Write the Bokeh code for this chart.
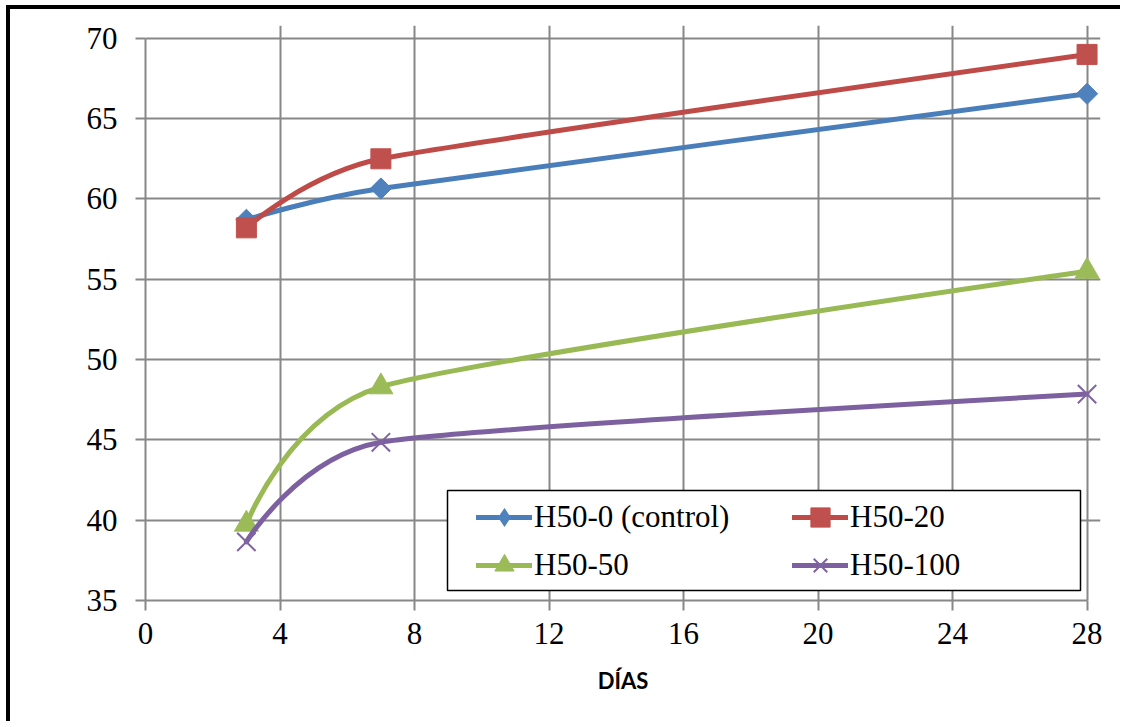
from bokeh.plotting import figure
from bokeh.models import (Legend, LegendItem, BoxAnnotation, FixedTicker,
                          ColumnDataSource)
from bokeh.embed import file_html
from bokeh.resources import INLINE
import math

# ---- data ----
dias = [3, 7, 28]
names = ["H50-0 (control)", "H50-20", "H50-50", "H50-100"]
h50_0 = [58.7, 60.65, 66.55]
h50_20 = [58.2, 62.5, 69.0]
h50_50 = [39.75, 48.3, 55.5]
h50_100 = [38.65, 44.85, 47.85]
x_ticks = [0, 4, 8, 12, 16, 20, 24, 28]
y_ticks = [35, 40, 45, 50, 55, 60, 65, 70]
series = [h50_0, h50_20, h50_50, h50_100]

# ---- style ----
line_colors = ["#4A7EBB", "#BE4B48", "#98B954", "#7D60A0"]
marker_colors = ["#4F81BD", "#C0504D", "#9BBB59", "#8064A2"]
plot_markers = ["square", "square", "triangle", "x"]
legend_markers = ["diamond", "square", "triangle", "x"]
marker_angles = [math.pi / 4, 0, 0, 0]
marker_sizes = [15, 20, 24, 26]

X0, X1, Y0, Y1 = 0, 28, 35, 70
SX = 942 / (X1 - X0)   # px per day in the plot area
SY = 562 / (Y1 - Y0)   # px per unit
XPAD, YPAD = 0.4, 0.8  # extra room so end markers are not clipped


def excel_smooth(xs, ys):
    """Excel-like smoothed line as cubic bezier segments."""
    n = len(xs)

    def dist(a, b):
        return math.hypot((xs[a] - xs[b]) * SX, (ys[a] - ys[b]) * SY)

    tx, ty = [], []
    for i in range(n):
        pv = max(i - 1, 0)
        nx = min(i + 1, n - 1)
        d01, d12, d02 = dist(pv, i), dist(i, nx), dist(pv, nx)
        if d02 == 0:
            f = 0.0
        elif d02 / 6 < d12 / 2 and d02 / 6 < d01 / 2:
            f = 1.0 / 6.0
        else:
            f = min(d01, d12) / d02 / 2
        tx.append((xs[nx] - xs[pv]) * f)
        ty.append((ys[nx] - ys[pv]) * f)
    d = dict(x0=[], y0=[], x1=[], y1=[], cx0=[], cy0=[], cx1=[], cy1=[])
    for i in range(n - 1):
        d["x0"].append(xs[i]); d["y0"].append(ys[i])
        d["x1"].append(xs[i + 1]); d["y1"].append(ys[i + 1])
        d["cx0"].append(xs[i] + tx[i]); d["cy0"].append(ys[i] + ty[i])
        d["cx1"].append(xs[i + 1] - tx[i + 1]); d["cy1"].append(ys[i + 1] - ty[i + 1])
    return d


SERIF_T = "Times"
SERIF_L = "serif"

p = figure(width=1114, height=716, x_range=(X0, X1 + XPAD), y_range=(Y0, Y1 + YPAD),
           output_backend="svg", toolbar_location=None,
           min_border_left=135, min_border_top=16,
           min_border_right=24, min_border_bottom=125)
p.styles = {"margin-left": "6px", "margin-top": "5px",
            "border-left": "4px solid black", "border-top": "4px solid black"}
p.background_fill_color = "white"
p.border_fill_color = "white"
p.outline_line_color = None

grid_col = "#878787"
for ax in (p.xaxis, p.yaxis):
    ax.axis_line_color = grid_col
    ax.axis_line_width = 2
    ax.major_tick_line_color = grid_col
    ax.major_tick_line_width = 2
    ax.major_tick_out = 10
    ax.major_tick_in = 0
    ax.minor_tick_line_color = None
    ax.major_label_text_font = SERIF_T
    ax.major_label_text_font_size = "31px"
    ax.major_label_text_color = "black"
p.xaxis.bounds = (X0, X1)
p.yaxis.bounds = (Y0, Y1)
p.xaxis.ticker = FixedTicker(ticks=x_ticks)
p.yaxis.ticker = FixedTicker(ticks=y_ticks)
p.xaxis.major_label_standoff = 12
p.yaxis.major_label_standoff = 18
p.xaxis.axis_label = "DÍAS"
p.xaxis.axis_label_text_font = "Lato"
p.xaxis.axis_label_text_font_style = "bold"
p.xaxis.axis_label_text_font_size = "22px"
p.xaxis.axis_label_text_color = "black"
p.xaxis.axis_label_standoff = 20

p.xgrid.ticker = FixedTicker(ticks=x_ticks)
p.ygrid.ticker = FixedTicker(ticks=y_ticks)
p.xgrid.bounds = (Y0, Y1)
p.ygrid.bounds = (X0, X1)
for g in (p.xgrid, p.ygrid):
    g.grid_line_color = grid_col
    g.grid_line_width = 2

items = []
for i, (name, ys) in enumerate(zip(names, series)):
    src = ColumnDataSource(excel_smooth(dias, ys))
    lr = p.bezier(x0="x0", y0="y0", x1="x1", y1="y1", cx0="cx0", cy0="cy0",
                  cx1="cx1", cy1="cy1", source=src,
                  line_color=line_colors[i], line_width=5, line_cap="round")
    if plot_markers[i] == "x":
        sr = p.scatter(dias, ys, marker="x", size=marker_sizes[i],
                       line_color=marker_colors[i], line_width=2)
        leg_r = sr
    else:
        sr = p.scatter(dias, ys, marker=plot_markers[i], size=marker_sizes[i],
                       angle=marker_angles[i],
                       fill_color=marker_colors[i], line_color=marker_colors[i],
                       line_width=1)
        if legend_markers[i] != plot_markers[i]:
            leg_r = p.scatter(dias, ys, marker=legend_markers[i], size=0,
                              fill_color=marker_colors[i], line_color=None)
        else:
            leg_r = sr
    items.append(LegendItem(label=name, renderers=[lr, leg_r], index=0))

box = BoxAnnotation(left=302, right=935, bottom=10, top=110,
                    left_units="screen", right_units="screen",
                    bottom_units="screen", top_units="screen",
                    fill_color="white", fill_alpha=1.0,
                    line_color="black", line_width=1.5, line_alpha=1.0)
p.add_layout(box)

common = dict(glyph_width=56, glyph_height=48, label_height=36,
              label_standoff=2, padding=0, spacing=0, margin=0,
              border_line_color=None, background_fill_alpha=0,
              label_text_font=SERIF_L, label_text_font_size="31px",
              label_text_color="black", orientation="vertical")
leg_a = Legend(items=[items[0], items[2]], location=(331, 11), **common)
leg_b = Legend(items=[items[1], items[3]], location=(647, 11), **common)
p.add_layout(leg_a)
p.add_layout(leg_b)

open("out.html", "w").write(file_html(p, INLINE))
